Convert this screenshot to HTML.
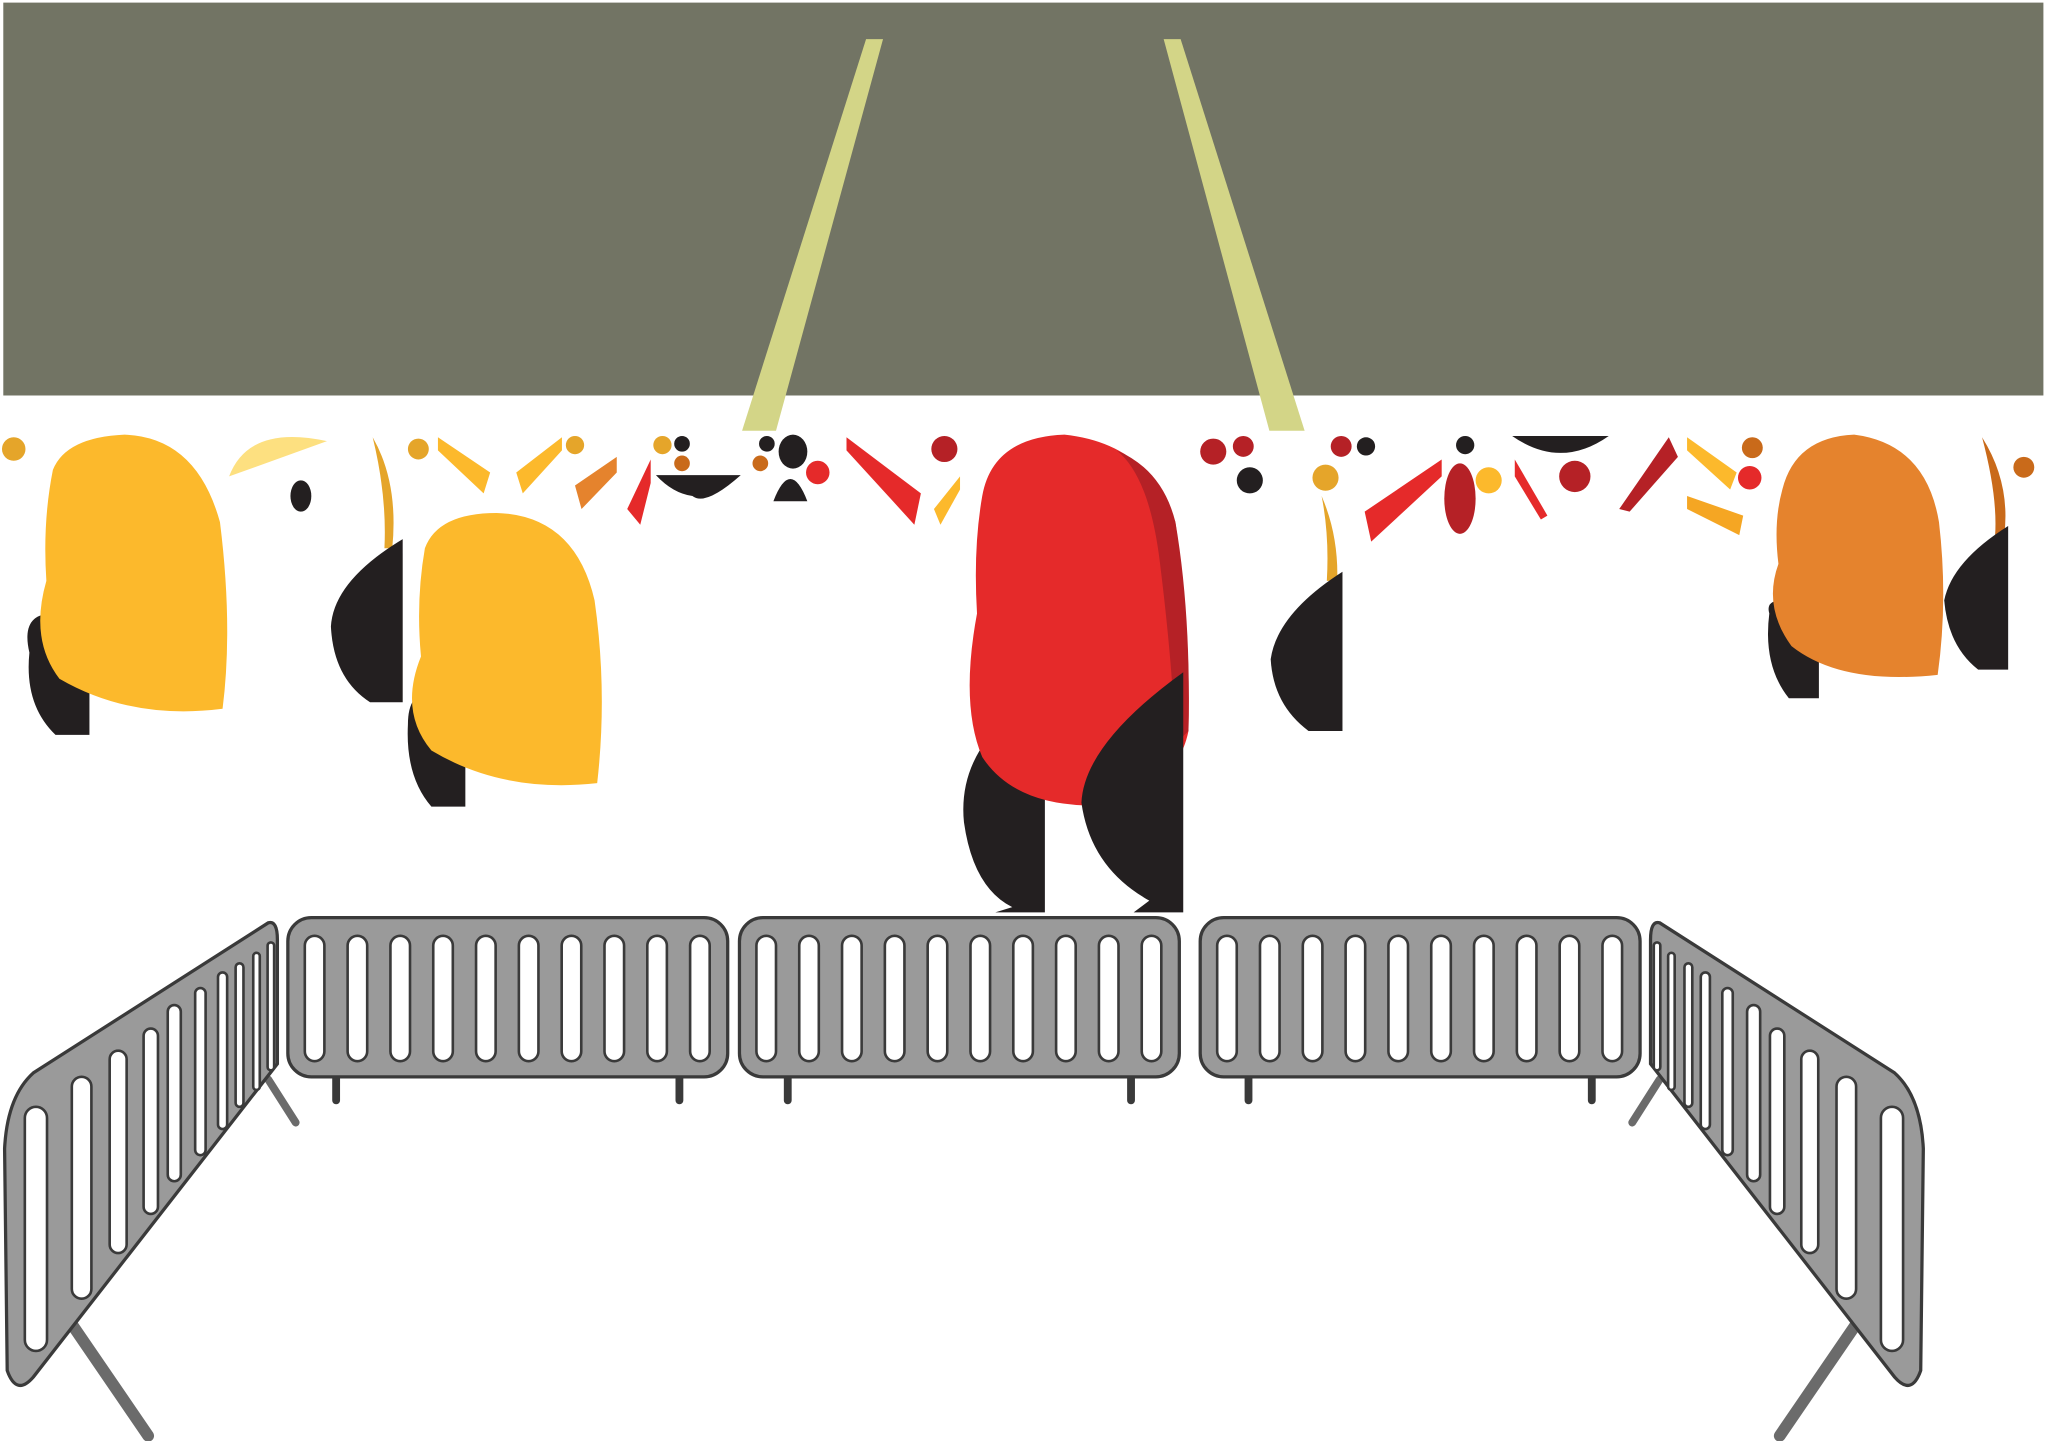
<!DOCTYPE html>
<html><head><meta charset="utf-8"><style>
html,body{margin:0;padding:0;background:#fff;}
svg{display:block;}
</style></head><body>
<svg id="scene" width="2048" height="1441" viewBox="0 0 1568 1104" xmlns="http://www.w3.org/2000/svg">
<rect x="2" y="2" width="1563" height="301" fill="#727464"/>
<polygon points="663,30 676,30 594,330 568,330" fill="#d3d587"/>
<polygon points="891,30 904,30 999,330 972,330" fill="#d3d587"/>
<g id="confetti">
<circle cx="10" cy="344" r="9" fill="#e5a52a"/><circle cx="320" cy="344" r="8" fill="#e5a52a"/>
<circle cx="440" cy="341" r="7" fill="#e5a52a"/><circle cx="507" cy="341" r="7" fill="#e5a52a"/>
<circle cx="522" cy="340" r="6" fill="#231f20"/><circle cx="522" cy="355" r="6" fill="#c96a1a"/>
<circle cx="587" cy="340" r="6" fill="#231f20"/><ellipse cx="607" cy="346" rx="11" ry="13" fill="#231f20"/>
<circle cx="582" cy="355" r="6" fill="#c96a1a"/><circle cx="723" cy="344" r="10" fill="#b52126"/>
<circle cx="929" cy="346" r="10" fill="#b52126"/><circle cx="952" cy="342" r="8" fill="#b52126"/>
<circle cx="1027" cy="342" r="8" fill="#b52126"/><circle cx="1046" cy="342" r="7" fill="#231f20"/>
<circle cx="1122" cy="341" r="7" fill="#231f20"/><circle cx="957" cy="368" r="10" fill="#231f20"/>
<circle cx="1342" cy="343" r="8" fill="#c96a1a"/><circle cx="1550" cy="358" r="8" fill="#c96a1a"/>
<ellipse cx="1118" cy="382" rx="12" ry="27" fill="#b52126"/><circle cx="1140" cy="368" r="10" fill="#fcb92c"/>
<circle cx="1206" cy="365" r="12" fill="#b52126"/><circle cx="1015" cy="366" r="10" fill="#e5a52a"/>
<circle cx="1340" cy="366" r="9" fill="#e52a2a"/><circle cx="626" cy="362" r="9" fill="#e52a2a"/>
<polygon points="335,335 375,362 370,378 335,345" fill="#fcb92c"/>
<polygon points="430,335 395,362 400,378 430,345" fill="#fcb92c"/>
<polygon points="472,350 440,372 445,390 472,362" fill="#e5832d"/>
<polygon points="498,352 480,390 490,402 498,370" fill="#e52a2a"/>
<path d="M502,364 L567,364 Q540,388 530,380 Q515,378 502,364Z" fill="#231f20"/>
<path d="M592,384 Q605,350 618,384Z" fill="#231f20"/>
<polygon points="648,335 705,378 700,402 648,345" fill="#e52a2a"/>
<polygon points="735,365 715,390 720,402 735,375" fill="#fcb92c"/>
<polygon points="1104,352 1045,392 1050,415 1104,365" fill="#e52a2a"/>
<polygon points="1160,352 1185,395 1180,398 1160,365" fill="#e52a2a"/>
<path d="M1158,334 L1232,334 Q1195,360 1158,334Z" fill="#231f20"/>
<polygon points="1278,335 1240,390 1248,392 1285,350" fill="#b52126"/>
<polygon points="1292,335 1330,362 1325,375 1292,345" fill="#fcb92c"/>
<polygon points="1292,380 1335,395 1332,410 1292,390" fill="#f5a623"/>
<path d="M175,365 Q190,325 250,338Z" fill="#fde080"/>
<ellipse cx="230" cy="380" rx="8" ry="12" fill="#231f20"/>
<path d="M285,335 Q305,370 300,420 L294,420 Q296,380 285,335Z" fill="#e5a52a"/>
<path d="M1518,335 Q1540,370 1535,410 L1528,410 Q1530,380 1518,335Z" fill="#c96a1a"/>
<path d="M1012,380 Q1025,410 1024,445 L1016,445 Q1018,410 1012,380Z" fill="#e5a52a"/>
</g>
<g>
<path d="M22,500 Q15,470 40,470 L68,470 L68,563 L42,563 Q18,540 22,500Z" fill="#231f20"/>
<path d="M40,360 Q50,335 95,333 Q150,335 168,400 Q178,480 170,543 Q100,552 45,520 Q22,490 35,445 Q32,400 40,360Z" fill="#fcb92c"/>
</g>
<path d="M308,413 L308,538 L283,538 Q255,520 253,480 Q255,445 308,413Z" fill="#231f20"/>
<g>
<path d="M312,555 Q312,530 330,530 L356,530 L356,618 L330,618 Q310,595 312,555Z" fill="#231f20"/>
<path d="M325,420 Q335,393 380,393 Q440,395 455,460 Q465,530 457,600 Q385,608 330,575 Q305,545 322,503 Q318,460 325,420Z" fill="#fcb92c"/>
</g>
<g>
<path d="M750,575 Q735,600 738,630 Q745,680 775,695 L762,699 L800,699 L800,580Z" fill="#231f20"/>
<path d="M752,380 Q760,335 815,333 Q880,340 900,400 Q912,480 910,560 Q900,610 830,617 Q775,615 752,580 Q735,540 748,470 Q745,420 752,380Z" fill="#e52a2a"/>
<path d="M855,345 Q880,365 888,430 Q898,510 900,570 L910,560 Q912,470 900,400 Q890,360 855,345Z" fill="#b52126"/>
<path d="M906,515 L906,699 L868,699 L880,690 Q835,665 828,615 Q830,570 906,515Z" fill="#231f20"/>
</g>
<path d="M1028,438 L1028,560 L1002,560 Q975,540 973,505 Q978,470 1028,438Z" fill="#231f20"/>
<g>
<path d="M1355,470 Q1352,460 1365,460 L1393,460 L1393,535 L1370,535 Q1350,510 1355,470Z" fill="#231f20"/>
<path d="M1365,375 Q1375,335 1420,333 Q1475,340 1485,400 Q1492,460 1484,517 Q1410,525 1372,495 Q1350,465 1362,432 Q1358,400 1365,375Z" fill="#e5832d"/>
<path d="M1538,403 L1538,513 L1515,513 Q1492,495 1489,460 Q1495,430 1538,403Z" fill="#231f20"/>
</g>
<g id="barriers"></g>
</svg>
<script>
var ns="http://www.w3.org/2000/svg";
var g=document.getElementById('barriers');
var slotX=[27,62,90,115,133,153,170,183,196,207];
var slotTop=[848,825,805,788,770,757,745,738,730,722];
var slotBot=[1035,995,960,930,905,885,865,848,835,820];
var slotW=[17,15,13,11,10,8,7,6,5,5];
function mk(tag,attrs,parent){var e=document.createElementNS(ns,tag);for(var k in attrs)e.setAttribute(k,attrs[k]);(parent||g).appendChild(e);return e;}
var starts=[220,566,919];
starts.forEach(function(x0,i){
  var grp=mk('g',{});
  
  
  var a=mk('line',{x1:x0+37,y1:808,x2:x0+37,y2:843,stroke:'#3a3a3a','stroke-width':6,'stroke-linecap':'round'},grp);
  
  
  var b=mk('line',{x1:x0+300,y1:808,x2:x0+300,y2:843,stroke:'#3a3a3a','stroke-width':6,'stroke-linecap':'round'},grp);
  
  
  var r=mk('rect',{x:x0,y:703,width:337,height:122,rx:18,fill:'#9a9a9a',stroke:'#3a3a3a','stroke-width':2.5},grp);
  
  
  for(var k=0;k<10;k++){
    var s=mk('rect',{x:x0+13+k*32.8,y:717,width:15,height:96,rx:7.5,fill:'#fff',stroke:'#3a3a3a','stroke-width':2},grp);
    
    
  }
});
function angled(transform,name){
  var grp=mk('g',{transform:transform});
  
  
  var l=mk('line',{x1:48,y1:1005,x2:113,y2:1100,stroke:'#6b6b6b','stroke-width':9,'stroke-linecap':'round'},grp);
  
  
  var l2=mk('line',{x1:205,y1:827,x2:226,y2:860,stroke:'#6b6b6b','stroke-width':6,'stroke-linecap':'round'},grp);
  
  
  var p=mk('path',{d:'M25,822 L205,707 Q212,705 212,720 L212,815 L25,1055 Q12,1070 5,1050 L3,880 Q5,840 25,822Z',fill:'#9a9a9a',stroke:'#3a3a3a','stroke-width':2.5},grp);
  
  
  for(var k=0;k<slotX.length;k++){
    var w=slotW[k];
    var s=mk('rect',{x:slotX[k]-w/2,y:slotTop[k],width:w,height:slotBot[k]-slotTop[k],rx:w/2,fill:'#fff',stroke:'#3a3a3a','stroke-width':2},grp);
    
    
  }
}
angled('','angled-barrier-left');
angled('translate(1476,0) scale(-1,1)','angled-barrier-right');
</script>
</body></html>
